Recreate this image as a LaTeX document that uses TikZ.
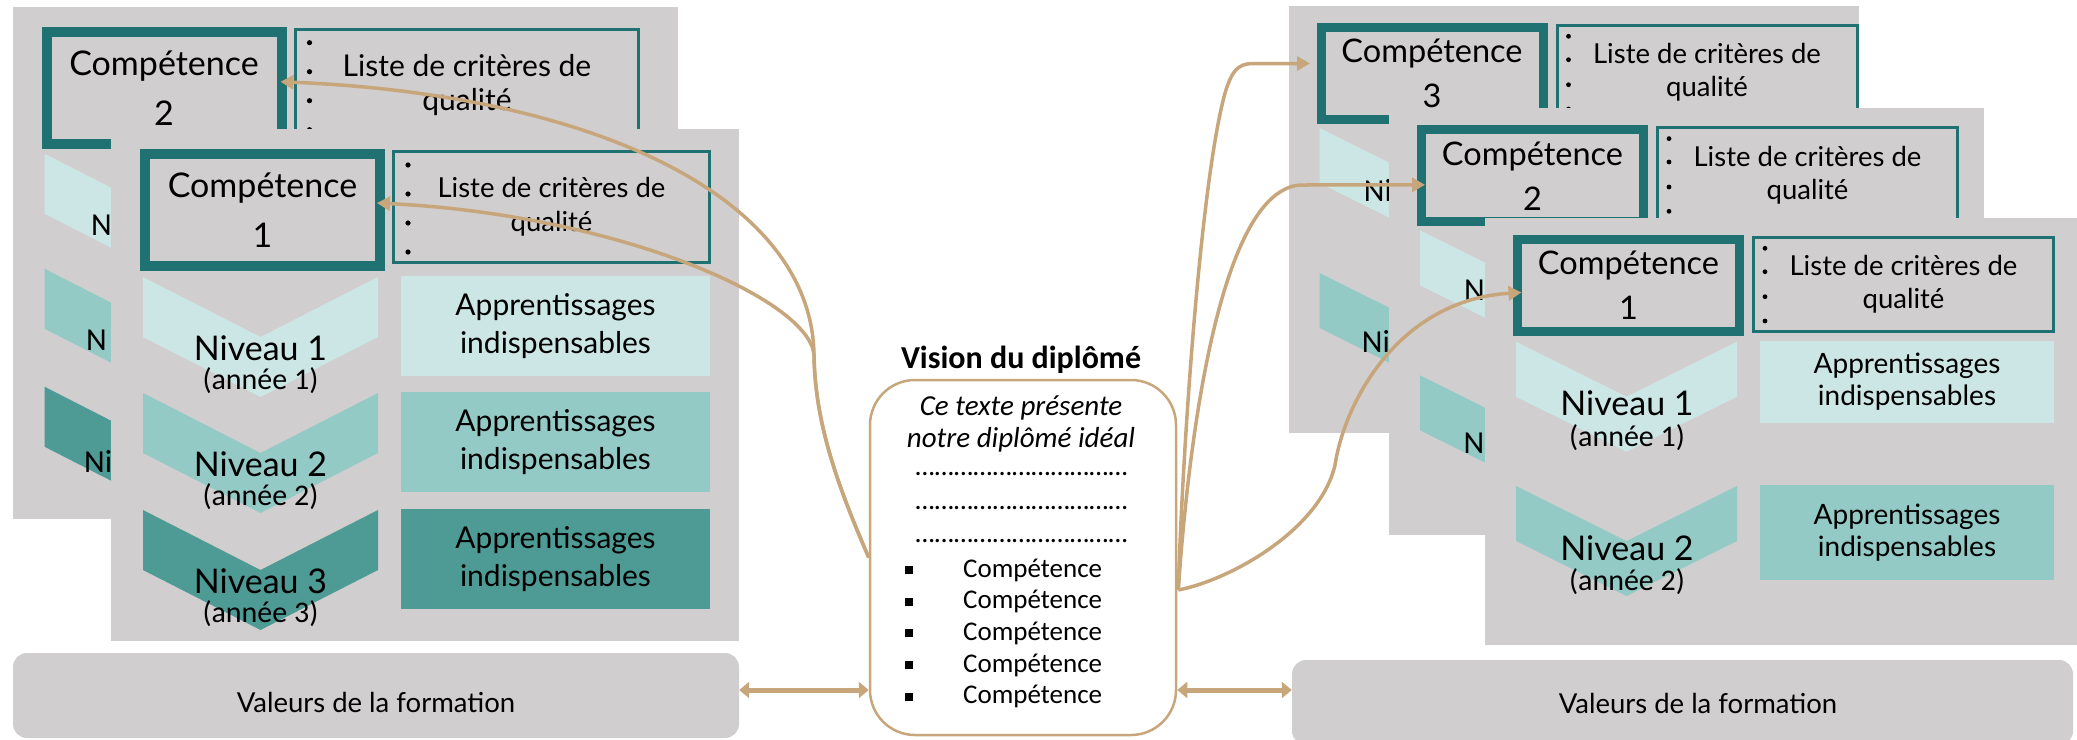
\documentclass[tikz,border=0pt]{standalone}
\usepackage{fontspec}
\setmainfont{Carlito}
\newfontfamily\hand{Lato}
\usetikzlibrary{arrows.meta,calc}
\definecolor{cardgray}{HTML}{D0CECF}
\definecolor{tealc}{HTML}{1F7172}
\definecolor{lightc}{HTML}{CCE6E5}
\definecolor{midc}{HTML}{93CAC6}
\definecolor{darkc}{HTML}{4E9A95}
\definecolor{tanc}{HTML}{C8A67B}

\tikzset{
  compL/.style={draw=tealc, line width=10pt, minimum width=235, minimum height=112, inner sep=0pt, outer sep=0pt, align=center, font=\hand\fontsize{34}{50}\selectfont},
  compR/.style={draw=tealc, line width=9pt, minimum width=222, minimum height=92, inner sep=0pt, outer sep=0pt, align=center, font=\hand\fontsize{32.5}{45}\selectfont},
  critL/.style={draw=tealc, line width=3.3pt, minimum width=316, minimum height=111, inner sep=0pt, align=center, font=\hand\fontsize{27.5}{34}\selectfont},
  critR/.style={draw=tealc, line width=3pt, minimum width=300, minimum height=94, inner sep=0pt, align=center, font=\hand\fontsize{27.5}{33}\selectfont},
  nivtxt/.style={font=\hand\fontsize{34}{36}\selectfont, inner sep=0pt},
  anntxt/.style={font=\fontsize{30}{32}\selectfont, inner sep=0pt},
  apprbox/.style={inner sep=0pt, align=center, font=\hand\fontsize{30}{38}\selectfont},
  apprboxR/.style={inner sep=0pt, align=center, font=\hand\fontsize{28}{32}\selectfont},
  backN/.style={font=\fontsize{32}{34}\selectfont, inner sep=0pt, anchor=west},
  conn/.style={draw=tanc, line width=3.5pt, -{Triangle[length=13pt,width=14pt]}},
  dbl/.style={draw=tanc, line width=5pt, {Triangle[length=10pt,width=16pt]}-{Triangle[length=10pt,width=16pt]}},
  valbox/.style={fill=cardgray, rounded corners=14pt, inner sep=0pt},
  valtxt/.style={font=\hand\fontsize{27.5}{30}\selectfont, inner sep=0pt},
  itemtxt/.style={font=\fontsize{27}{28}\selectfont, inner sep=0pt, anchor=west},
}

% chevrons
\newcommand\chevL[2]{\fill[#2] (32,#1) -- ++(117.5,60) -- ++(117.5,-60) -- ++(0,60) -- ++(-117.5,60) -- ++(-117.5,-60) -- cycle;}
\newcommand\chevR[2]{\fill[#2] (31,#1) -- ++(110.5,55) -- ++(110.5,-55) -- ++(0,55) -- ++(-110.5,55) -- ++(-110.5,-55) -- cycle;}

\newcommand\levelL[4]{%
  \chevL{#3}{#4}
  \node[nivtxt] (#1niv#2) at (149.5,#3+71) {Niveau #2};
  \node[anntxt] (#1ann#2) at (149.5,#3+104) {(année #2)};
  \node[apprbox,fill=#4,minimum width=309,minimum height=100] (#1app#2) at (444.5,#3+49) {Apprentissages\\indispensables};
}
% front card, left group
\newcommand\leftcard[4]{%
\begin{scope}[shift={(#1,#2)}]
  \fill[cardgray] (0,0) rectangle (#4,512);
  \node[compL] (L#3comp) at (151.5,81) {Compétence\\#3};
  \node[critL] (L#3crit) at (440.5,78) {Liste de critères de\\qualité};
  \foreach \yy in {36,65,94,123} {\fill (297,\yy) circle (2.6pt);}
  \levelL{L#3}{1}{148}{lightc}
  \levelL{L#3}{2}{264}{midc}
  \levelL{L#3}{3}{381}{darkc}
\end{scope}}
% back card, left group
\newcommand\leftback[4]{%
\begin{scope}[shift={(#1,#2)}]
  \fill[cardgray] (0,0) rectangle (#4,512);
  \node[compL] (L#3comp) at (151.5,81) {Compétence\\#3};
  \node[critL, minimum width=343, font=\hand\fontsize{30}{34}\selectfont] (L#3crit) at (454.5,78) {Liste de critères de\\qualité};
  \foreach \yy in {36,65,94,123} {\fill (297,\yy) circle (2.6pt);}
  \chevL{147}{lightc}
  \chevL{262}{midc}
  \chevL{380}{darkc}
\end{scope}}

\newcommand\levelR[5]{%
  \chevR{#3}{#4}
  \node[nivtxt] (#1niv#2) at (142,#3+62) {Niveau #2};
  \node[anntxt] (#1ann#2) at (142,#3+96) {(année #2)};
  \node[apprboxR,fill=#4,minimum width=294,minimum height=#5] (#1app#2) at (422,#3-1+#5/2) {Apprentissages\\indispensables};
}
\newcommand\rightcard[4]{%
\begin{scope}[shift={(#1,#2)}]
  \fill[cardgray] (0,0) rectangle (#4,427);
  \node[compR] (R#3comp) at (143.5,67.5) {Compétence\\#3};
  \node[critR] (R#3crit) at (418.5,66.5) {Liste de critères de\\qualité};
  \foreach \yy in {30.3,53.7,78.7,103} {\fill (280,\yy) circle (2.4pt);}
  \levelR{R#3}{1}{123.7}{lightc}{82}
  \levelR{R#3}{2}{268}{midc}{95}
\end{scope}}
\newcommand\rightback[4]{%
\begin{scope}[shift={(#1,#2)}]
  \fill[cardgray] (0,0) rectangle (#4,427);
  \node[compR] (R#3comp) at (143.5,67.5) {Compétence\\#3};
  \node[critR] (R#3crit) at (418.5,66.5) {Liste de critères de\\qualité};
  \foreach \yy in {30.3,53.7,78.7,103} {\fill (280,\yy) circle (2.4pt);}
  \chevR{122}{lightc}
  \chevR{267}{midc}
\end{scope}}

\begin{document}
\begin{tikzpicture}[x=1pt,y=-1pt]
\useasboundingbox (0,0) rectangle (2077,739);
\clip (0,0) rectangle (2077,739);

% ---------------- left group
\leftback{12.5}{6.7}{2}{665.5}
\begin{scope}
  \clip (0,0) rectangle (111,739);
  \node[backN] (L2n1) at (91,225) {N};
  \node[backN] (L2n2) at (86,340) {N};
  \node[backN] (L2n3) at (84,461.7) {Ni};
\end{scope}
\leftcard{111}{129}{1}{628}

% ---------------- center box
\node[draw=tanc, line width=2.5pt, rounded corners=45pt, minimum width=306, minimum height=355, inner sep=0pt] (vision) at (1023,557.5) {};
\node[font=\bfseries\fontsize{32}{34}\selectfont, inner sep=0pt] (vtitle) at (1021,360) {Vision du diplômé};
\node[font=\itshape\fontsize{29}{32}\selectfont, align=center, inner sep=0pt] (vtext) at (1021,424) {Ce texte présente\\notre diplômé idéal};
\foreach \yy/\nm in {474/a,508/b,541/c} {
  \node[font=\itshape\fontsize{28}{30}\selectfont, inner sep=0pt] (vdots\nm) at (1022,\yy) {……………………………};
}
\foreach \yy/\nm in {570/a,601.7/b,633.3/c,665/d,696.7/e} {
  \fill (905,\yy-4) rectangle +(8,8);
  \node[itemtxt] (vitem\nm) at (963,\yy) {Compétence};
}

% ---------------- left connectors
\coordinate (tipL2) at ($(L2comp.east)+(-1,-6)$);
\coordinate (tipL1) at ($(L1comp.east)+(-3,-7)$);
\coordinate (lsplit) at (814,355);
\draw[conn] (vision.west) .. controls (835,480) and (815,420) .. (lsplit) .. controls (810,300) and (620,215) .. (tipL1);
\draw[conn] (vision.west) .. controls (835,480) and (815,420) .. (lsplit) .. controls (812,200) and (600,95) .. (tipL2);

% ---------------- right group
\rightback{1288.5}{6}{3}{570}
\begin{scope}
  \clip (0,0) rectangle (1389,739);
  \node[backN] (R3n1) at (1363.7,190) {Ni};
  \node[backN] (R3n2) at (1361.7,341.7) {Ni};
\end{scope}
\rightback{1389}{108.3}{2}{595}
\begin{scope}
  \clip (0,0) rectangle (1485,739);
  \node[backN] (R2n1) at (1464,290) {N};
  \node[backN] (R2n2) at (1463.3,443.3) {N};
\end{scope}
\rightcard{1485}{218}{1}{595}

\coordinate (rstart) at ($(vision.east)+(1,32.5)$);
\coordinate (tipR3) at ($(R3comp.west)+(-11,-10)$);
\coordinate (tipR2) at ($(R2comp.west)+(3.5,9)$);
\coordinate (tipR1) at ($(R1comp.west)+(4,7)$);
\draw[conn] (rstart) .. controls (1183,440) and (1200,200) .. (1222,105) .. controls (1230,70) and (1238,64) .. (1252,63.5) -- (tipR3);
\draw[conn] (rstart) .. controls (1190,420) and (1220,230) .. (1280,192) .. controls (1290,186) and (1295,185) .. (1305,185) -- (tipR2);
\draw[conn] (rstart) .. controls (1230,580) and (1320,530) .. (1335,465) .. controls (1345,400) and (1400,300) .. (tipR1);

% ---------------- values boxes
\node[valbox, minimum width=726, minimum height=85] (Lval) at (376,695.5) {};
\node[valtxt] (Lvaltxt) at (376,702) {Valeurs de la formation};
\node[valbox, minimum width=781, minimum height=85] (Rval) at (1682.5,702.5) {};
\node[valtxt] (Rvaltxt) at (1698,703) {Valeurs de la formation};

\coordinate (arrowrow) at (0,690);
\draw[dbl] (Lval.east |- arrowrow) -- (vision.west |- arrowrow);
\draw[dbl] (vision.east |- arrowrow) -- (Rval.west |- arrowrow);
\end{tikzpicture}
\end{document}
